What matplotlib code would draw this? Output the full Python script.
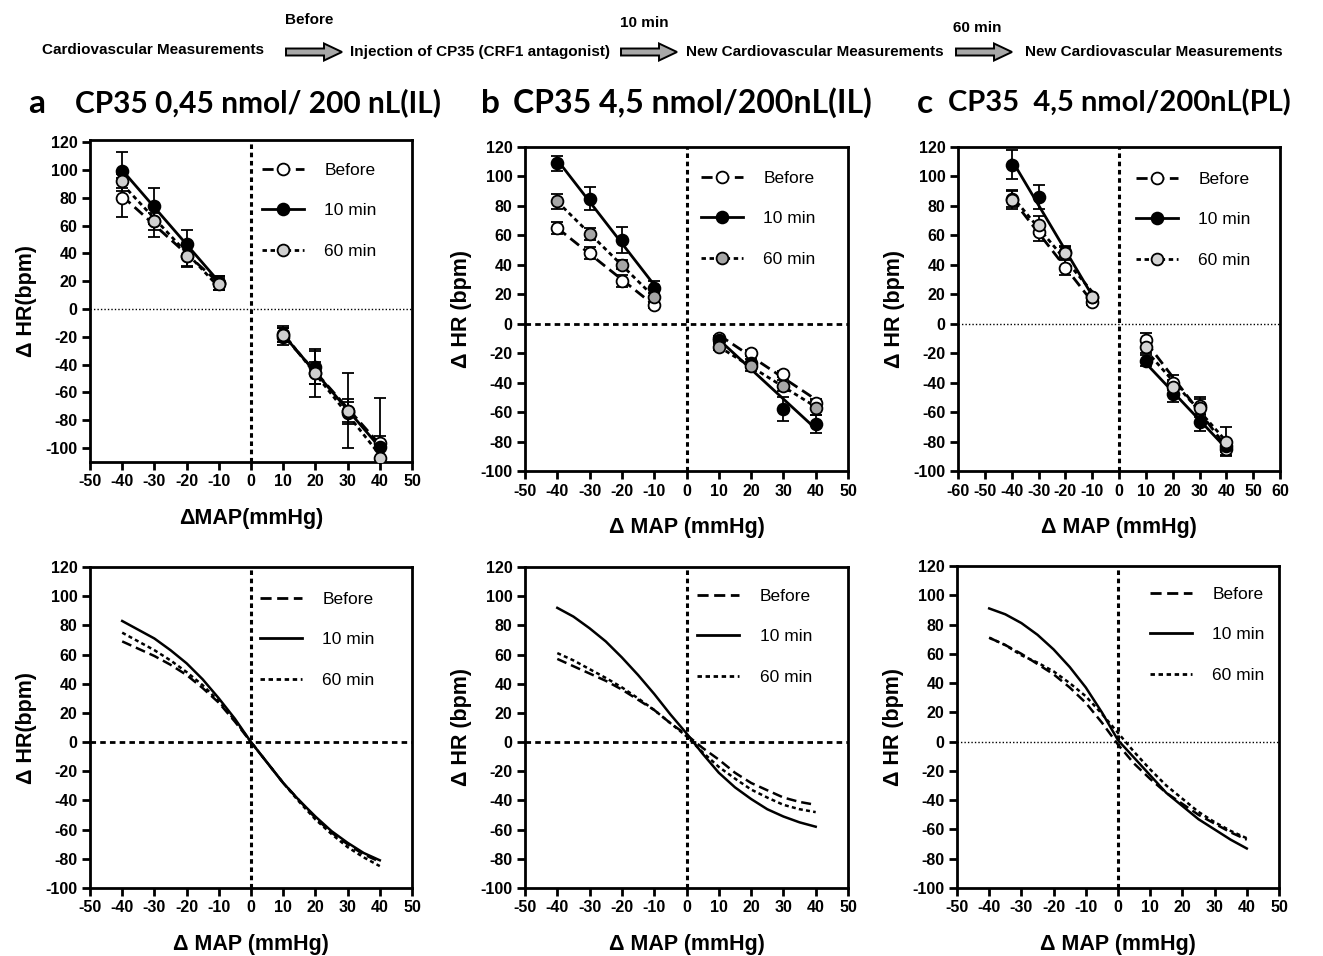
import matplotlib
matplotlib.use('Agg')
import matplotlib.pyplot as plt
from matplotlib.lines import Line2D
from matplotlib.patches import FancyArrow
import numpy as np

plt.rcParams['axes.unicode_minus'] = False

W, H = 1323, 956

# ---- data: baroreflex points (top row) ----
x_pts = [-40, -30, -20, -10, 10, 20, 30, 40]

a_before = [80, 63, 38, 19, -18, -46, -73, -96]
a_before_err = [14, 11, 8, 5, 6, 17, 27, 32]
a_10 = [99, 74, 47, 19, -20, -42, -75, -99]
a_10_err = [14, 13, 10, 5, 6, 12, 8, 8]
a_60 = [92, 63, 38, 18, -19, -46, -73, -107]
a_60_err = [5, 6, 7, 4, 5, 8, 8, 6]

b_before = [65, 48, 29, 13, -10, -20, -34, -54]
b_before_err = [4, 4, 4, 2, 2, 2, 2, 3]
b_10 = [109, 85, 57, 24, -11, -27, -58, -68]
b_10_err = [5, 8, 9, 5, 2, 3, 8, 6]
b_60 = [83, 61, 40, 18, -16, -29, -42, -57]
b_60_err = [5, 4, 3, 3, 2, 3, 4, 5]

c_before = [85, 62, 38, 15, -11, -40, -56, -85]
c_before_err = [6, 6, 5, 2, 5, 5, 6, 4]
c_10 = [108, 86, 49, 18, -25, -48, -67, -83]
c_10_err = [10, 8, 4, 2, 4, 5, 6, 4]
c_60 = [84, 67, 48, 18, -16, -43, -57, -80]
c_60_err = [6, 6, 4, 2, 4, 5, 6, 10]

# ---- data: sigmoid curves (bottom row), read every 5 mmHg ----
x_curve = [-40, -35, -30, -25, -20, -15, -10, -5, 0, 5, 10, 15, 20, 25, 30, 35, 40]

da_before = [69, 64, 59, 53, 46, 37, 27, 14, 0, -14, -28, -40, -52, -62, -70, -77, -82]
da_10 = [83, 77, 71, 63, 54, 43, 30, 16, 0, -14, -28, -40, -51, -61, -69, -76, -81]
da_60 = [75, 69, 63, 56, 48, 39, 28, 15, 0, -14, -28, -41, -53, -63, -72, -79, -85]

db_before = [57, 52, 47, 42, 36, 29, 22, 13, 5, -4, -12, -21, -28, -33, -38, -41, -43]
db_10 = [92, 86, 78, 69, 58, 46, 33, 19, 6, -8, -21, -31, -39, -46, -51, -55, -58]
db_60 = [61, 56, 50, 44, 37.5, 30, 22, 13, 4, -7, -17, -25, -32.5, -38, -43, -46, -48]

dc_before = [71, 66, 60, 53, 46, 37, 26.5, 13, -2, -15, -25.5, -35, -42.5, -50, -56, -62, -67]
dc_10 = [91, 87, 81, 73, 63, 51, 37, 20, 1, -11, -23, -35, -44, -53, -60, -67, -73]
dc_60 = [71, 66, 59, 54, 48, 40, 31, 19, 6, -7, -19, -30, -39, -48, -55, -61, -66]

series_names = ['Before', '10 min', '60 min']
titles = ['CP35 0,45 nmol/ 200 nL(IL)', 'CP35 4,5 nmol/200nL(IL)', 'CP35  4,5 nmol/200nL(PL)']
letters = ['a', 'b', 'c']

DASH_BEFORE = (4, 2)
DASH_60 = (1.6, 1.3)


def px_axes(fig, left, top, right, bottom):
    return fig.add_axes([left / W, 1 - bottom / H, (right - left) / W, (bottom - top) / H])


def style_axes(ax, xlim, ylim, xticks):
    ax.set_xlim(*xlim)
    ax.set_ylim(*ylim)
    ax.set_xticks(xticks)
    ax.set_yticks(range(-100, 121, 20))
    for s in ax.spines.values():
        s.set_linewidth(2)
    ax.tick_params(direction='out', length=6, width=2, labelsize=11.5, pad=3)
    for lab in ax.get_xticklabels() + ax.get_yticklabels():
        lab.set_fontweight('bold')
        lab.set_fontfamily('Liberation Sans')


def ref_lines(ax, h_thin):
    ax.axvline(0, color='black', lw=2.2, dashes=(1.5, 1.2), zorder=1)
    if h_thin:
        ax.axhline(0, color='black', lw=1.0, dashes=(1, 1.5), zorder=1)
    else:
        ax.axhline(0, color='black', lw=2.0, dashes=(2, 1.5), zorder=1)


def top_panel(ax, data, grey):
    styles = [dict(dashes=DASH_BEFORE), dict(linestyle='-'), dict(dashes=DASH_60)]
    faces = ['white', 'black', grey]
    x = np.array(x_pts)
    for (y, err), st, fc in zip(data, styles, faces):
        y = np.array(y, dtype=float)
        for side in (x < 0, x > 0):
            k, b = np.polyfit(x[side], y[side], 1)
            xs = np.array([x[side].min(), x[side].max()])
            ax.plot(xs, k * xs + b, color='black', lw=2, zorder=2, **st)
        ax.errorbar(x, y, yerr=err, fmt='none', ecolor='black', elinewidth=1.3,
                    capsize=4, capthick=1.3, zorder=3)
        ax.plot(x, y, 'o', ms=8.5, mfc=fc, mec='black', mew=1.3, zorder=4, linestyle='none')
    handles = [Line2D([], [], color='black', lw=2, marker='o', ms=8.5, mfc=fc, mec='black',
                      mew=1.3, **st) for st, fc in zip(styles, faces)]
    return handles


def bottom_panel(ax, curves):
    styles = [dict(dashes=DASH_BEFORE), dict(linestyle='-'), dict(dashes=DASH_60)]
    for y, st in zip(curves, styles):
        ax.plot(x_curve, y, color='black', lw=1.8, zorder=3, **st)
    return [Line2D([], [], color='black', lw=2, **st) for st in styles]


def add_legend(fig, ax, handles, left, top):
    ax.legend(handles, series_names, loc='upper left',
              bbox_to_anchor=(left / W, 1 - top / H), bbox_transform=fig.transFigure,
              frameon=False, handlelength=2.4, handletextpad=1.2, labelspacing=1.45,
              borderaxespad=0, borderpad=0,
              prop={'family': 'Liberation Sans', 'size': 12.5})


def main():
    fig = plt.figure(figsize=(W / 100, H / 100), dpi=100)

    # ---- header flow diagram ----
    over = fig.add_axes([0, 0, 1, 1])
    over.set_xlim(0, W)
    over.set_ylim(H, 0)
    over.axis('off')
    hdr = dict(fontfamily='Liberation Sans', fontweight='bold', fontsize=11, va='center')
    over.text(42, 50, 'Cardiovascular Measurements', ha='left', **hdr)
    over.text(350, 52, 'Injection of CP35 (CRF1 antagonist)', ha='left', **hdr)
    over.text(686, 52, 'New Cardiovascular Measurements', ha='left', **hdr)
    over.text(1025, 52, 'New Cardiovascular Measurements', ha='left', **hdr)
    over.text(285, 20, 'Before', ha='left', **hdr)
    over.text(620, 23, '10 min', ha='left', **hdr)
    over.text(953, 28, '60 min', ha='left', **hdr)
    for x0 in (286, 621, 956):
        over.add_patch(FancyArrow(x0, 52, 38, 0, width=7, head_width=17, head_length=18,
                                  length_includes_head=False, facecolor='#a8a8a8',
                                  edgecolor='black', lw=1.4))

    # ---- panels ----
    top_boxes = [(90, 140, 412, 462), (525, 147, 848, 471), (958, 147, 1280, 471)]
    top_ylims = [(-110, 121.5), (-100, 120), (-100, 120)]
    top_xlims = [(-50, 50), (-50, 50), (-60, 60)]
    top_data = [
        [(a_before, a_before_err), (a_10, a_10_err), (a_60, a_60_err)],
        [(b_before, b_before_err), (b_10, b_10_err), (b_60, b_60_err)],
        [(c_before, c_before_err), (c_10, c_10_err), (c_60, c_60_err)],
    ]
    greys = ['#cfcfcf', '#a6a6a6', '#d4d4d4']
    h_thin_top = [True, False, True]
    top_leg = [(262, 163), (701, 171), (1136, 172)]
    top_xlabels = ['\u0394MAP(mmHg)', '\u0394 MAP (mmHg)', '\u0394 MAP (mmHg)']
    ylabels = ['\u0394 HR(bpm)', '\u0394 HR (bpm)', '\u0394 HR (bpm)']

    bot_boxes = [(90, 567, 412, 888), (525, 567, 848, 888), (957, 566, 1279, 888)]
    bot_data = [[da_before, da_10, da_60], [db_before, db_10, db_60], [dc_before, dc_10, dc_60]]
    h_thin_bot = [False, False, True]
    bot_leg = [(260, 592), (697, 589), (1150, 587)]

    title_x = [(37, 75), (490, 513), (925, 948)]
    title_sizes = [21.5, 23, 21]

    for i in range(3):
        ax = px_axes(fig, *top_boxes[i])
        xlim = top_xlims[i]
        style_axes(ax, xlim, top_ylims[i], range(xlim[0], xlim[1] + 1, 10))
        ref_lines(ax, h_thin_top[i])
        handles = top_panel(ax, top_data[i], greys[i])
        add_legend(fig, ax, handles, *top_leg[i])
        ax.set_xlabel(top_xlabels[i], fontfamily='Liberation Sans', fontweight='bold',
                      fontsize=15.5, labelpad=13)
        ax.set_ylabel(ylabels[i], fontfamily='Liberation Sans', fontweight='bold',
                      fontsize=15.5, labelpad=6)

        bx = px_axes(fig, *bot_boxes[i])
        style_axes(bx, (-50, 50), (-100, 120), range(-50, 51, 10))
        ref_lines(bx, h_thin_bot[i])
        handles = bottom_panel(bx, bot_data[i])
        add_legend(fig, bx, handles, *bot_leg[i])
        bx.set_xlabel('\u0394 MAP (mmHg)', fontfamily='Liberation Sans', fontweight='bold',
                      fontsize=15.5, labelpad=13)
        bx.set_ylabel(ylabels[i] if i else '\u0394 HR(bpm)', fontfamily='Liberation Sans',
                      fontweight='bold', fontsize=15.5, labelpad=6)

        lx, tx = title_x[i]
        over.text(lx, 103, letters[i], ha='center', va='center', fontfamily='Lato',
                  fontweight='bold', fontsize=24)
        over.text(tx, 103, titles[i], ha='left', va='center', fontfamily='Lato',
                  fontweight='bold', fontsize=title_sizes[i])

    over.set_zorder(-1)
    fig.savefig('out.png', dpi=100)


if __name__ == '__main__':
    main()
